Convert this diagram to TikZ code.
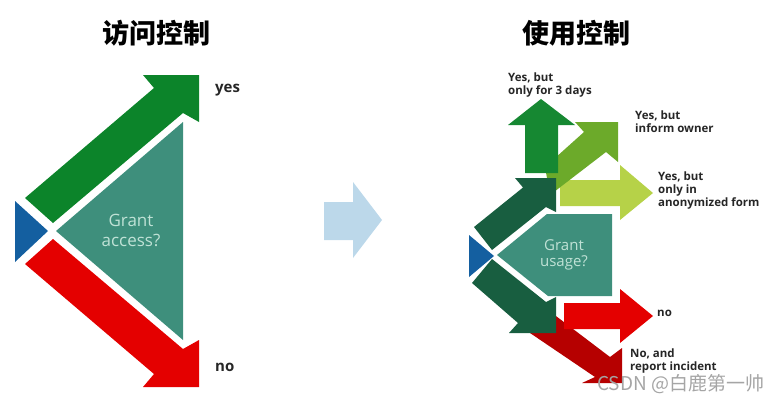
\documentclass[tikz,border=0pt]{standalone}
\usepackage{fontspec}
\setmainfont{Open Sans}
\newfontfamily\cjkfont{Noto Sans CJK SC}
\usetikzlibrary{calc}

\definecolor{gateblue}{RGB}{20,95,160}
\definecolor{gateteal}{RGB}{62,143,124}
\definecolor{yesgreen}{RGB}{12,132,42}
\definecolor{nored}{RGB}{228,0,0}
\definecolor{stepblue}{RGB}{188,216,234}
\definecolor{darkgreen}{RGB}{24,94,64}
\definecolor{upgreen}{RGB}{22,136,50}
\definecolor{midgreen}{RGB}{108,170,42}
\definecolor{lightgreen}{RGB}{182,210,72}
\definecolor{darkred}{RGB}{182,0,0}
\definecolor{asktext}{RGB}{192,226,214}

\tikzset{
  title/.style={font=\cjkfont\bfseries\fontsize{27}{30}\selectfont, inner sep=0pt},
  answer/.style={anchor=west, inner sep=0pt, align=left, text=black!85,
    font=\bfseries\fontsize{11.5}{13}\selectfont},
  bigans/.style={answer, font=\bfseries\fontsize{15}{17}\selectfont},
  ask/.style={align=center, inner sep=0pt, text=asktext}
}

\begin{document}
\begin{tikzpicture}[x=1pt, y=-1pt]
  \useasboundingbox (0,0) rectangle (783,402);

  % access control
  \node[title] (t1) at (156,33) {访问控制};

  \fill[gateblue] (15,201) -- (48,231) -- (15,262) -- cycle;
  \fill[gateteal] (56,231) -- (183,122) -- (183,340) -- cycle;
  \fill[yesgreen] (25,198) -- (154,88) -- (143,75) -- (199,75) -- (199,122)
    -- (183,113) -- (53,223) -- cycle;
  \fill[nored] (53,239) -- (183,349) -- (199,340) -- (199,387) -- (143,387)
    -- (154,374) -- (25,264) -- cycle;
  \node[ask, font=\fontsize{17}{20}\selectfont] (q1) at (131,230) {Grant\\access?};
  \node[bigans] (yes) at (215,90) {yes};
  \node[bigans] (no) at (215,367) {no};

  % step
  \fill[stepblue] (324,202) -- (353,202) -- (353,182) -- (382,220) -- (353,258)
    -- (353,240) -- (324,240) -- cycle;

  % usage control
  \node[title] (t2) at (576,33) {使用控制};

  \fill[lightgreen] (560,180) -- (620,180) -- (620,165) -- (653,193) -- (620,220)
    -- (620,206) -- (560,206) -- cycle;
  \fill[midgreen] (545,167) -- (584,132) -- (575,122) -- (618,122) -- (618,162)
    -- (606,152) -- (550,195) -- cycle;
  \fill[upgreen] (525,173) -- (525,125) -- (508,125) -- (541,99) -- (575,125)
    -- (558,125) -- (558,173) -- cycle;
  \fill[darkred] (548,310) -- (610,357) -- (622,348) -- (622,383) -- (582,383)
    -- (595,377) -- (530,333) -- cycle;
  \fill[nored] (564,303) -- (620,303) -- (620,289) -- (653,316) -- (620,343)
    -- (620,329) -- (564,329) -- cycle;
  \fill[darkgreen] (474,227) -- (523,187.5) -- (515,178) -- (556,178) -- (556,212)
    -- (546,207) -- (492,250) -- cycle;
  \fill[darkgreen] (472,283) -- (518,323) -- (509,333) -- (556,333) -- (556,297)
    -- (546,302) -- (492,259) -- cycle;
  \fill[gateteal] (497,255) -- (547,214) -- (612,214) -- (612,296) -- (548,296) -- cycle;
  \fill[gateblue] (469,235) -- (494,256) -- (469,277) -- cycle;

  \node[ask, font=\fontsize{15}{16}\selectfont] (q2) at (564,255) {Grant\\usage?};
  \node[answer] (days) at (508,85) {Yes, but\\only for 3 days};
  \node[answer] (owner) at (635,121.5) {Yes, but\\inform owner};
  \node[answer] (anon) at (658,191) {Yes, but\\only in\\anonymized form};
  \node[answer] (deny) at (657,313) {no};
  \node[answer] (report) at (630,361.5) {No, and\\report incident};

  \node[anchor=west, inner sep=0pt, text={rgb,255:red,165;green,165;blue,165},
    font=\cjkfont\fontsize{19}{20}\selectfont] (mark) at (597,384) {CSDN @白鹿第一帅};
\end{tikzpicture}
\end{document}
